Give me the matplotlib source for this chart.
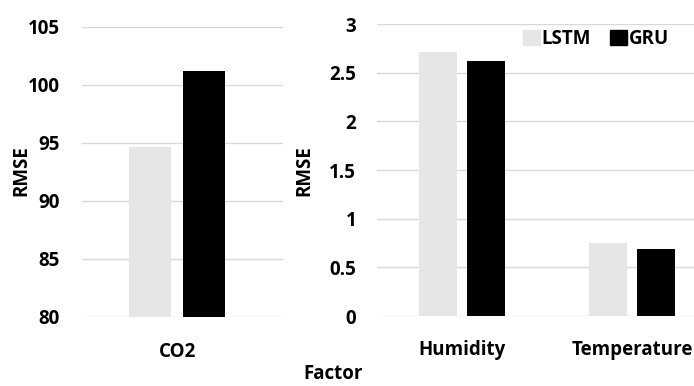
import matplotlib
matplotlib.use("Agg")
import matplotlib.pyplot as plt
from matplotlib.patches import Patch

plt.rcParams['font.family'] = ['Open Sans', 'DejaVu Sans']
plt.rcParams['font.weight'] = 'bold'

# RMSE per factor for each model
co2_factor = ["CO2"]
co2_lstm = [94.66]
co2_gru = [101.25]

factors = ["Humidity", "Temperature"]
lstm_rmse = [2.71, 0.75]
gru_rmse = [2.62, 0.69]

left_ticks = [80, 85, 90, 95, 100, 105]
right_ticks = [0, 0.5, 1, 1.5, 2, 2.5, 3]
right_ticklabels = ["0", "0.5", "1", "1.5", "2", "2.5", "3"]

LSTM_COLOR = "#e6e6e6"
GRU_COLOR = "#000000"
GRID_COLOR = "#d9d9d9"
FS = 13.5

W, H = 694, 386
fig = plt.figure(figsize=(W / 100, H / 100), dpi=100)


def px_axes(x0, x1, ytop, ybot):
    return fig.add_axes([x0 / W, 1 - ybot / H, (x1 - x0) / W, (ybot - ytop) / H])


def style(ax):
    for s in ax.spines.values():
        s.set_visible(False)
    ax.grid(axis="y", color=GRID_COLOR, linewidth=1.0)
    ax.set_axisbelow(True)
    ax.tick_params(axis="both", length=0, labelsize=FS)
    for lab in ax.get_xticklabels() + ax.get_yticklabels():
        lab.set_fontweight("bold")


# left panel: CO2
ax1 = px_axes(82, 283, 27, 317)
x1 = list(range(len(co2_factor)))
off1, bw1 = 0.134, 0.21
ax1.bar([x - off1 for x in x1], co2_lstm, width=bw1, color=LSTM_COLOR)
ax1.bar([x + off1 for x in x1], co2_gru, width=bw1, color=GRU_COLOR)
ax1.set_ylim(80, 105)
ax1.set_yticks(left_ticks)
ax1.set_yticklabels([str(t) for t in left_ticks])
ax1.set_xlim(-0.473, 0.527)
ax1.set_xticks(x1)
ax1.set_xticklabels(co2_factor)
ax1.tick_params(axis="x", pad=18)
ax1.tick_params(axis="y", pad=16)
ax1.set_ylabel("RMSE", fontsize=FS, fontweight="bold")
ax1.yaxis.set_label_coords(31 / W, 1 - 171 / H, transform=fig.transFigure)
style(ax1)

# right panel: humidity and temperature
ax2 = px_axes(377, 717, 24, 316)
x2 = list(range(len(factors)))
off2, bw2 = 0.141, 0.224
ax2.bar([x - off2 for x in x2], lstm_rmse, width=bw2, color=LSTM_COLOR, label="LSTM")
ax2.bar([x + off2 for x in x2], gru_rmse, width=bw2, color=GRU_COLOR, label="GRU")
ax2.set_ylim(0, 3)
ax2.set_yticks(right_ticks)
ax2.set_yticklabels(right_ticklabels)
ax2.set_xlim(-0.5, 1.5)
ax2.set_xticks(x2)
ax2.set_xticklabels(factors)
ax2.tick_params(axis="x", pad=17)
ax2.tick_params(axis="y", pad=15)
ax2.set_ylabel("RMSE", fontsize=FS, fontweight="bold")
ax2.yaxis.set_label_coords(314 / W, 1 - 171 / H, transform=fig.transFigure)
style(ax2)

handles = [Patch(color=LSTM_COLOR, label="LSTM"), Patch(color=GRU_COLOR, label="GRU")]
fig.legend(handles=handles, loc="center left", bbox_to_anchor=(506 / W, 1 - 39 / H),
           ncol=2, frameon=False, handlelength=0.9, handleheight=0.9, handletextpad=0.1,
           columnspacing=1.0, prop={"weight": "bold", "size": FS})

fig.text(333 / W, 1 - 374 / H, "Factor", ha="center", va="center",
         fontsize=FS, fontweight="bold")

fig.savefig("out.png", dpi=100)
